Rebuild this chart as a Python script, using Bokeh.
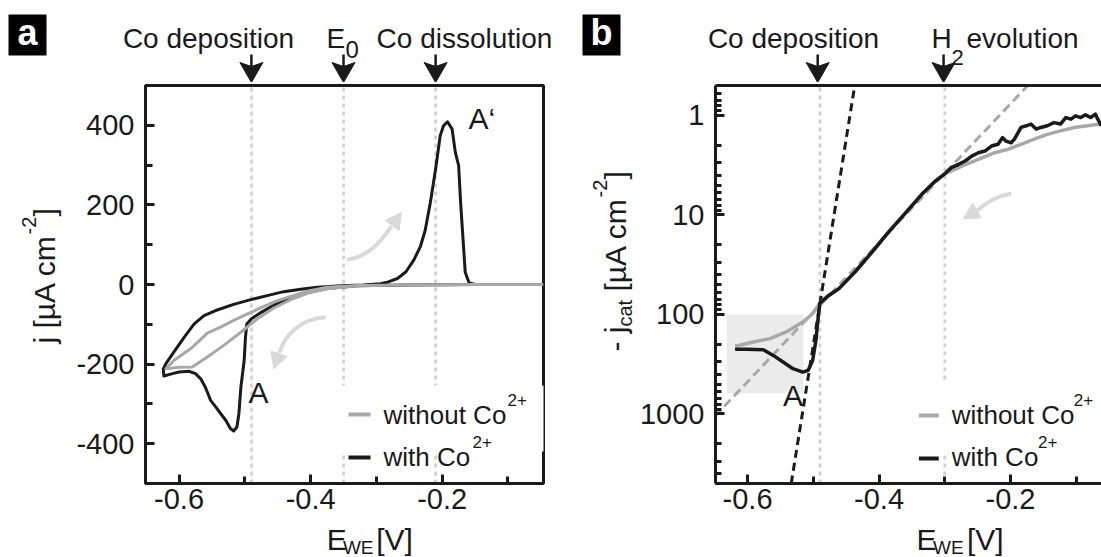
import math
from bokeh.plotting import figure
from bokeh.layouts import row, column
from bokeh.models import Range1d, FixedTicker, LinearAxis, Label, PrintfTickFormatter, BasicTickFormatter
from bokeh.embed import file_html
from bokeh.resources import INLINE

# ------------------------------------------------------------------ data
# panel a: cyclic voltammograms, E [V] vs j [uA cm^-2]
a_without_E = [-0.046, -0.150, -0.253, -0.329, -0.375, -0.405, -0.430, -0.456, -0.481, -0.506,
               -0.532, -0.557, -0.580, -0.600, -0.620, -0.608, -0.582, -0.557, -0.537, -0.517,
               -0.496, -0.476, -0.456, -0.430, -0.405, -0.375, -0.329, -0.253, -0.150, -0.046]
a_without_j = [0, 0, -1, -3, -11, -22, -38, -59, -86, -120,
               -153, -182, -207, -208, -212, -191, -161, -122, -107, -90,
               -74, -59, -44, -30, -17, -7, -2.5, -1, 0, 0]
a_with_E = [-0.046, -0.150, -0.253, -0.329, -0.375, -0.405, -0.430, -0.456, -0.475, -0.490,
            -0.497, -0.499, -0.501, -0.506, -0.509, -0.512, -0.517, -0.522, -0.529, -0.537,
            -0.544, -0.552, -0.560, -0.567, -0.575, -0.585, -0.600, -0.610, -0.623, -0.624,
            -0.620, -0.608, -0.592, -0.577, -0.562, -0.542, -0.517, -0.491, -0.466, -0.441,
            -0.415, -0.390, -0.354, -0.320, -0.294, -0.283, -0.268, -0.255, -0.243, -0.233,
            -0.226, -0.218, -0.210, -0.203, -0.198, -0.192, -0.185, -0.180, -0.175, -0.172,
            -0.168, -0.165, -0.159, -0.150, -0.046]
a_with_j = [0, 0, -1, -3, -10, -20, -34, -52, -70, -86,
            -99, -132, -191, -258, -324, -358, -368, -362, -341, -324,
            -308, -291, -258, -237, -224, -218, -220, -224, -230, -212,
            -199, -170, -132, -99, -78, -64, -50, -38, -28, -18,
            -12, -7, -3, -1, 2, 6, 15, 32, 62, 96,
            135, 206, 290, 374, 399, 409, 391, 332, 299, 206,
            106, 31, 4, 0, 0]
a_marker_E = [-0.49, -0.35, -0.21]
a_xticks = [-0.6, -0.4, -0.2]
a_xminor = [-0.5, -0.3, -0.1]
a_yticks = [-400, -200, 0, 200, 400]
a_yminor = [-300, -100, 100, 300]

# panel b: cathodic current (log), E [V] vs -j_cat [uA cm^-2]
b_without_E = [-0.619, -0.591, -0.566, -0.541, -0.516, -0.501, -0.490, -0.476, -0.461, -0.436,
               -0.410, -0.385, -0.360, -0.335, -0.315, -0.300, -0.274, -0.249, -0.224, -0.204,
               -0.184, -0.164, -0.144, -0.124, -0.103, -0.083, -0.062]
b_without_j = [209, 189, 175, 150, 119, 98, 77, 64, 55, 37,
               23.3, 14.7, 9.6, 6.2, 4.6, 3.86, 3.23, 2.76, 2.37, 2.19,
               1.95, 1.73, 1.55, 1.43, 1.32, 1.27, 1.22]
b_with_E = [-0.619, -0.602, -0.576, -0.561, -0.546, -0.531, -0.516, -0.508, -0.501, -0.496,
            -0.493, -0.490, -0.476, -0.461, -0.436, -0.410, -0.385, -0.360, -0.335, -0.315,
            -0.300, -0.290, -0.279, -0.269, -0.259, -0.249, -0.239, -0.229, -0.219, -0.212,
            -0.207, -0.199, -0.194, -0.184, -0.176, -0.169, -0.161, -0.154, -0.144, -0.134,
            -0.124, -0.116, -0.108, -0.101, -0.093, -0.086, -0.078, -0.071, -0.066, -0.062]
b_with_j = [224, 224, 226, 258, 301, 351, 380, 365, 290, 182,
            114, 77, 64, 55, 37, 23.3, 14.7, 9.6, 6.2, 4.6,
            3.86, 3.35, 3.10, 2.87, 2.56, 2.37, 2.28, 2.03, 1.95, 1.67,
            1.81, 1.88, 1.73, 1.32, 1.27, 1.22, 1.37, 1.32, 1.27, 1.18,
            1.22, 1.05, 1.09, 1.01, 1.05, 0.986, 1.05, 0.97, 1.13, 1.27]
b_marker_E = [-0.49, -0.30]
tafel_co_E = [-0.5336, -0.437]
tafel_co_j = [5000, 0.5]
tafel_h2_E = [-0.650, -0.1737]
tafel_h2_j = [1060, 0.5]
region_E = [-0.632, -0.515]
region_j = [100, 620]
b_xticks = [-0.6, -0.4, -0.2]
b_xminor = [-0.5, -0.3, -0.1]
b_yticks = [1, 10, 100, 1000]
b_yminor = [0.6, 0.7, 0.8, 0.9, 2, 3, 4, 5, 6, 7, 8, 9, 20, 30, 40, 50, 60, 70, 80, 90,
            200, 300, 400, 500, 600, 700, 800, 900, 2000, 3000, 4000, 5000]

# ------------------------------------------------------------------ style / layout
FONT = "Liberation Sans"
INK = "#1a1a1a"
GREY = "#a8a8a8"
DOT = "#d2d2d2"
PALE = "#d9d9d9"

H = 557
TOP, BOT = 85, 483          # page rows of the plot frames
STRIP_H = 82                # height of strip above the frames
CORE_H = 439                # figure with the axes
A_L, A_R = 145, 543         # page columns of frame a
B_L, B_R = 712, 1101        # page columns of frame b
A_LEFT_W, B_LEFT_W = 70, 76
B_X0 = 560
BASE_SHIFT = 0.34           # label baseline correction (fraction of font size)

XA = (-0.651, -0.046)
YA = (-500.0, 500.0)
XB = (-0.6488, -0.0616)
YB = (5000.0, 0.5)


def ea(px):
    return XA[0] + (px - A_L) * (XA[1] - XA[0]) / (A_R - A_L)


def ja(py):
    return YA[1] - (py - TOP) * (YA[1] - YA[0]) / (BOT - TOP)


def eb(px):
    return XB[0] + (px - B_L) * (XB[1] - XB[0]) / (B_R - B_L)


def jb(py):
    lo, hi = math.log10(YB[1]), math.log10(YB[0])
    return 10 ** (lo + (py - TOP) * (hi - lo) / (BOT - TOP))


def ident(v):
    return v


def strip(width, height, xr, yr):
    p = figure(width=width, height=height, x_range=Range1d(*xr), y_range=Range1d(*yr),
               x_axis_type=None, y_axis_type=None, output_backend="svg",
               toolbar_location=None, title=None, min_border=0, min_border_left=0,
               min_border_right=0, min_border_top=0, min_border_bottom=0)
    p.grid.visible = False
    p.outline_line_color = None
    p.background_fill_color = "white"
    p.border_fill_color = "white"
    return p


def core(width, xr, yr, ytype, left, right):
    p = figure(width=width, height=CORE_H, x_range=Range1d(*xr), y_range=Range1d(*yr),
               y_axis_type=ytype, output_backend="svg", toolbar_location=None, title=None,
               min_border_left=left, min_border_right=right, min_border_top=TOP - STRIP_H,
               min_border_bottom=CORE_H - (BOT - STRIP_H))
    p.xgrid.visible = False
    p.ygrid.visible = False
    p.background_fill_color = "white"
    p.border_fill_color = "white"
    return p


def style_axis(ax, standoff):
    ax.axis_line_width = 3
    ax.axis_line_color = INK
    ax.major_tick_in = 9
    ax.major_tick_out = 0
    ax.major_tick_line_width = 3
    ax.major_tick_line_color = INK
    ax.minor_tick_in = 7
    ax.minor_tick_out = 0
    ax.minor_tick_line_width = 3
    ax.minor_tick_line_color = INK
    ax.major_label_text_font = FONT
    ax.major_label_text_font_size = "29px"
    ax.major_label_text_color = INK
    ax.major_label_standoff = standoff


def lab(p, fx, fy, px, py, text, size, align="left", rotated=False, color=INK, bold=False):
    # px, py: page pixel position of the text baseline start (or centre for align="center")
    shift = BASE_SHIFT * size
    if rotated:
        px -= shift
    else:
        py -= shift
    p.add_layout(Label(x=fx(px), y=fy(py), text=text, text_font=FONT,
                       text_font_size=f"{size}px", text_color=color, text_align=align,
                       text_baseline="alphabetic", angle=math.pi / 2 if rotated else 0.0,
                       text_font_style="bold" if bold else "normal"))


def curved_arrow(p, fx, fy, pts, L=16, W=17):
    (x0, y0), (cx0, cy0), (cx1, cy1), (x3, y3), (xt, yt) = pts
    p.bezier(x0=[fx(x0)], y0=[fy(y0)], x1=[fx(x3)], y1=[fy(y3)], cx0=[fx(cx0)], cy0=[fy(cy0)],
             cx1=[fx(cx1)], cy1=[fy(cy1)], line_color=PALE, line_width=4)
    dx, dy = xt - x3, yt - y3
    d = math.hypot(dx, dy)
    ux, uy = dx / d, dy / d
    bx, by = xt - L * ux, yt - L * uy
    nx, ny = -uy, ux
    hx = [xt, bx + W / 2 * nx, bx - W / 2 * nx]
    hy = [yt, by + W / 2 * ny, by - W / 2 * ny]
    p.patch([fx(v) for v in hx], [fy(v) for v in hy], fill_color=PALE, line_color=PALE)


def marker_arrows(p, marks, vpx):
    # stems plus arrow heads above the frame (strip y runs downward, in pixels)
    k = len(marks)
    p.segment(x0=marks, y0=[54] * k, x1=marks, y1=[68] * k, line_color=INK, line_width=2.5)
    xs = [[mk - 11.5 * vpx, mk, mk + 11.5 * vpx, mk] for mk in marks]
    ys = [[62, 66, 62, STRIP_H] for _ in marks]
    p.patches(xs, ys, fill_color=INK, line_color=INK, line_width=1)


def letter_box(p, fx, text, x0, x1):
    p.quad(left=[fx(x0)], right=[fx(x1)], top=[14], bottom=[55], fill_color="black",
           line_color=None)
    lab(p, fx, ident, (x0 + x1) / 2, 44, text, 36, align="center", color="white", bold=True)


# ------------------------------------------------------------------ panel a
top_a = strip(560, STRIP_H, (ea(0), ea(560)), (STRIP_H, 0))
marker_arrows(top_a, a_marker_E, (XA[1] - XA[0]) / (A_R - A_L))
letter_box(top_a, ea, "a", 8, 46)
lab(top_a, ea, ident, 208, 48, "Co deposition", 28, align="center")
lab(top_a, ea, ident, 326, 48, "E", 28)
lab(top_a, ea, ident, 345, 57, "0", 24)
lab(top_a, ea, ident, 464, 48, "Co dissolution", 28, align="center")

left_a = strip(A_LEFT_W, H - STRIP_H, (0, A_LEFT_W), (H, STRIP_H))
lab(left_a, ident, ident, 54, 343, "j [µA cm", 30, rotated=True)
lab(left_a, ident, ident, 35, 234, "-2", 20, rotated=True)
lab(left_a, ident, ident, 54, 216, "]", 30, rotated=True)

bot_a = strip(560 - A_LEFT_W, H - STRIP_H - CORE_H, (A_LEFT_W, 560), (H, STRIP_H + CORE_H))
lab(bot_a, ident, ident, 293, 549, "E", 30)
lab(bot_a, ident, ident, 313, 553, "WE", 19)
lab(bot_a, ident, ident, 354, 549, "[V]", 30)

pa = core(560 - A_LEFT_W, XA, YA, "linear", A_L - A_LEFT_W, 560 - A_R)
pa.outline_line_color = INK
pa.outline_line_width = 3
pa.xaxis.ticker = FixedTicker(ticks=a_xticks, minor_ticks=a_xminor)
pa.yaxis.ticker = FixedTicker(ticks=a_yticks, minor_ticks=a_yminor)
pa.xaxis.formatter = PrintfTickFormatter(format="%.1f")
pa.yaxis.formatter = PrintfTickFormatter(format="%d")
style_axis(pa.xaxis[0], 5)
style_axis(pa.yaxis[0], 11)

n = len(a_marker_E)
pa.segment(x0=a_marker_E, y0=[YA[0]] * n, x1=a_marker_E, y1=[YA[1]] * n,
           line_color=DOT, line_width=3, line_dash="4 4")
pa.quad(left=[ea(336)], right=[ea(545)], top=[ja(385)], bottom=[ja(451)],
        fill_color="white", line_color=None)
pa.line(a_with_E, a_with_j, line_color=INK, line_width=3, line_join="round")
pa.line(a_without_E, a_without_j, line_color=GREY, line_width=3, line_join="round")

curved_arrow(pa, ea, ja, [(346.7, 259.3), (370, 256), (383, 237), (391, 226), (401, 212)])
curved_arrow(pa, ea, ja, [(325, 316.7), (300, 318), (284, 335), (279, 352), (273.3, 368.3)])

lab(pa, ea, ja, 258, 402, "A", 30, align="center")
lab(pa, ea, ja, 468, 128, "A\u2018", 30)

pa.line([ea(348), ea(370)], [ja(414)] * 2, line_color=GREY, line_width=4)
pa.line([ea(348), ea(370)], [ja(457)] * 2, line_color=INK, line_width=4)
lab(pa, ea, ja, 383, 423, "without Co", 26)
lab(pa, ea, ja, 507, 405, "2+", 17)
lab(pa, ea, ja, 383, 465, "with Co", 26)
lab(pa, ea, ja, 472, 447, "2+", 17)

# ------------------------------------------------------------------ panel b
top_b = strip(541, STRIP_H, (eb(B_X0), eb(1101)), (STRIP_H, 0))
marker_arrows(top_b, b_marker_E, (XB[1] - XB[0]) / (B_R - B_L))
letter_box(top_b, eb, "b", 582, 620)
lab(top_b, eb, ident, 793, 48, "Co deposition", 28, align="center")
lab(top_b, eb, ident, 931, 48, "H", 28)
lab(top_b, eb, ident, 951, 64, "2", 22)
lab(top_b, eb, ident, 966, 48, "evolution", 28)

left_b = strip(B_LEFT_W, H - STRIP_H, (B_X0, B_X0 + B_LEFT_W), (H, STRIP_H))
lab(left_b, ident, ident, 625, 351, "- j", 30, rotated=True)
lab(left_b, ident, ident, 631, 326, "cat", 20, rotated=True)
lab(left_b, ident, ident, 625, 291, "[µA cm", 30, rotated=True)
lab(left_b, ident, ident, 606, 197, "-2", 20, rotated=True)
lab(left_b, ident, ident, 625, 179, "]", 30, rotated=True)

bot_b = strip(541 - B_LEFT_W, H - STRIP_H - CORE_H, (B_X0 + B_LEFT_W, 1101),
              (H, STRIP_H + CORE_H))
lab(bot_b, ident, ident, 878, 549, "E", 30)
lab(bot_b, ident, ident, 898, 553, "WE", 19)
lab(bot_b, ident, ident, 939, 549, "[V]", 30)

pb = core(541 - B_LEFT_W, XB, YB, "log", B_L - B_X0 - B_LEFT_W, 0)
pb.outline_line_color = None
pb.xaxis.ticker = FixedTicker(ticks=b_xticks, minor_ticks=b_xminor)
pb.yaxis.ticker = FixedTicker(ticks=b_yticks, minor_ticks=b_yminor)
pb.xaxis.formatter = PrintfTickFormatter(format="%.1f")
pb.yaxis.formatter = BasicTickFormatter(use_scientific=False)
style_axis(pb.xaxis[0], 5)
style_axis(pb.yaxis[0], 11)
pb.yaxis[0].minor_tick_in = 6
top_axis = LinearAxis(ticker=FixedTicker(ticks=[]), axis_line_width=3, axis_line_color=INK,
                      major_tick_in=0, major_tick_out=0, minor_tick_in=0, minor_tick_out=0,
                      major_label_standoff=0, major_label_text_font_size="0px")
pb.add_layout(top_axis, "above")

pb.quad(left=[region_E[0]], right=[region_E[1]], bottom=[region_j[1]], top=[region_j[0]],
        fill_color="#ebebeb", line_color=None)
m = len(b_marker_E)
pb.segment(x0=b_marker_E, y0=[YB[0]] * m, x1=b_marker_E, y1=[YB[1]] * m,
           line_color=DOT, line_width=3, line_dash="4 4")
pb.quad(left=[eb(905)], right=[eb(1103)], top=[jb(383)], bottom=[jb(455)],
        fill_color="white", line_color=None)
pb.line(tafel_h2_E, tafel_h2_j, line_color=GREY, line_width=3, line_dash="9 5")
pb.line(tafel_co_E, tafel_co_j, line_color=INK, line_width=3, line_dash="8 5")
pb.line(b_without_E, b_without_j, line_color=GREY, line_width=3.5, line_join="round")
pb.line(b_with_E, b_with_j, line_color=INK, line_width=3.5, line_join="round")

curved_arrow(pb, eb, jb, [(1010, 193.3), (995, 195), (984, 203), (975.5, 210), (961.7, 218.3)])

lab(pb, eb, jb, 790, 405, "A", 30, align="center")

pb.line([eb(917), eb(937)], [jb(415)] * 2, line_color=GREY, line_width=4)
pb.line([eb(917), eb(937)], [jb(458)] * 2, line_color=INK, line_width=4)
lab(pb, eb, jb, 950, 423, "without Co", 26)
lab(pb, eb, jb, 1073, 405, "2+", 17)
lab(pb, eb, jb, 950, 465, "with Co", 26)
lab(pb, eb, jb, 1037, 447, "2+", 17)

panel_a = column(top_a, row(left_a, column(pa, bot_a)))
panel_b = column(top_b, row(left_b, column(pb, bot_b)))
layout = row(panel_a, panel_b)
open("out.html", "w").write(file_html(layout, INLINE))
